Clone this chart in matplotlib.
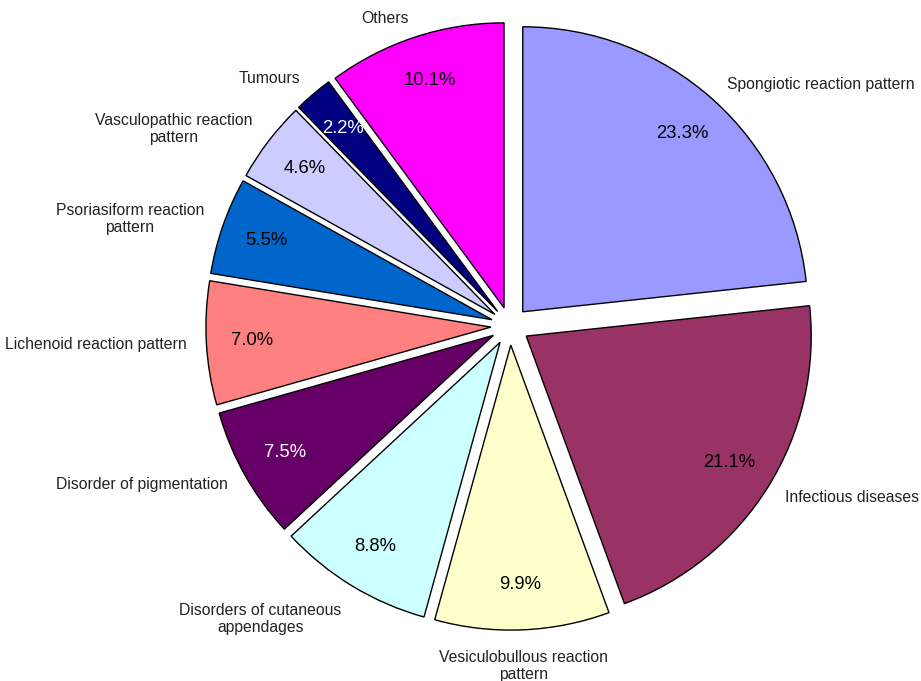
import matplotlib.pyplot as plt

plt.rcParams['font.family'] = ['Liberation Sans', 'DejaVu Sans']

labels = ["Spongiotic reaction pattern", "Infectious diseases",
          "Vesiculobullous reaction\npattern", "Disorders of cutaneous\nappendages",
          "Disorder of pigmentation", "Lichenoid reaction pattern",
          "Psoriasiform reaction\npattern", "Vasculopathic reaction\npattern",
          "Tumours", "Others"]
values = [23.3, 21.1, 9.9, 8.8, 7.5, 7.0, 5.5, 4.6, 2.2, 10.1]
colors = ["#9999FF", "#993366", "#FFFFCC", "#CCFFFF", "#660066",
          "#FF8080", "#0066CC", "#CCCCFF", "#000080", "#FF00FF"]
pct_colors = ["black", "black", "black", "black", "white",
              "black", "black", "black", "white", "black"]

fig = plt.figure(figsize=(9.21, 6.81), dpi=100)
ax = fig.add_axes([0, 0, 1, 1])

wedges, texts, autotexts = ax.pie(
    values, labels=labels, colors=colors, explode=[0.067] * len(values),
    startangle=90, counterclock=False, autopct='%1.1f%%',
    pctdistance=0.84, labeldistance=1.07,
    wedgeprops=dict(edgecolor='black', linewidth=1.0),
    textprops=dict(fontsize=11.3, color='#222222'))

for t, c in zip(autotexts, pct_colors):
    t.set_color(c)
    t.set_fontsize(13.3)

for t in texts:
    t.set_multialignment('center')

# bottom labels sit below the pie like in the original
texts[2].set_ha('center')
texts[2].set_va('top')
texts[3].set_va('top')

# place pie centre at ~(510, 326) px with radius ~285 px
scale = 285.0
cx, cy = 510.0, 326.0
ax.set_xlim(-cx / scale, (921 - cx) / scale)
ax.set_ylim(-(681 - cy) / scale, cy / scale)
ax.set_aspect('auto')
ax.axis('off')

fig.savefig('out.png', dpi=100)
